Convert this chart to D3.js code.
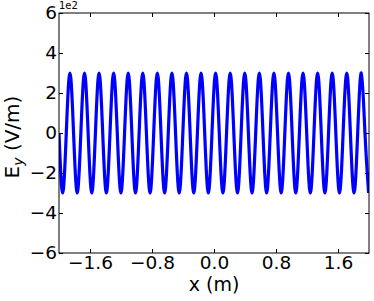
<!DOCTYPE html>
<html>
<head>
<meta charset="utf-8">
<script src="https://cdn.jsdelivr.net/npm/d3@7"></script>
<style>
  body { margin: 0; background: #fff; }
  text { font-family: "DejaVu Sans", sans-serif; }
</style>
</head>
<body>
<div id="chart"></div>
<script>
// zero crossings and extrema of the wave (x in m)
var xs = [-2.000, -1.953, -1.906, -1.859, -1.812, -1.765, -1.718, -1.671, -1.624, -1.577,
          -1.530, -1.483, -1.436, -1.389, -1.342, -1.295, -1.248, -1.201, -1.154, -1.107,
          -1.060, -1.013, -0.966, -0.919, -0.872, -0.825, -0.778, -0.731, -0.684, -0.637,
          -0.590, -0.543, -0.496, -0.449, -0.402, -0.355, -0.308, -0.261, -0.214, -0.167,
          -0.120, -0.073, -0.026, 0.021, 0.068, 0.115, 0.162, 0.209, 0.256, 0.303,
          0.350, 0.397, 0.444, 0.491, 0.538, 0.585, 0.632, 0.679, 0.726, 0.773,
          0.820, 0.867, 0.914, 0.961, 1.008, 1.055, 1.102, 1.149, 1.196, 1.243,
          1.290, 1.337, 1.384, 1.431, 1.478, 1.525, 1.572, 1.619, 1.666, 1.713,
          1.760, 1.807, 1.854, 1.901, 1.948, 1.995];
// E_y in V/m at those points
var ey = [0, -300, 0, 300, 0, -300, 0, 300, 0, -300,
          0, 300, 0, -300, 0, 300, 0, -300, 0, 300,
          0, -300, 0, 300, 0, -300, 0, 300, 0, -300,
          0, 300, 0, -300, 0, 300, 0, -300, 0, 300,
          0, -300, 0, 300, 0, -300, 0, 300, 0, -300,
          0, 300, 0, -300, 0, 300, 0, -300, 0, 300,
          0, -300, 0, 300, 0, -300, 0, 300, 0, -300,
          0, 300, 0, -300, 0, 300, 0, -300, 0, 300,
          0, -300, 0, 300, 0, -300];
var xTicks = [-1.6, -0.8, 0.0, 0.8, 1.6];
var yTicks = [-6, -4, -2, 0, 2, 4, 6];   // in units of 1e2

var margin = {top: 13, right: 5, bottom: 48, left: 59},
    width = 374 - margin.left - margin.right,
    height = 301 - margin.top - margin.bottom;

var x = d3.scaleLinear().domain([-2, 2]).range([0, width]);
var y = d3.scaleLinear().domain([-600, 600]).range([height, 0]);

var svg = d3.select("#chart").append("svg")
    .attr("width", 374)
    .attr("height", 301)
    .append("g")
    .attr("transform", "translate(" + margin.left + "," + margin.top + ")");

svg.append("clipPath").attr("id", "clip")
    .append("rect").attr("width", width).attr("height", height);

var line = d3.line()
    .x(function(d){ return x(d[0]); })
    .y(function(d){ return y(d[1]); })
    .curve(d3.curveNatural);

svg.append("path")
    .datum(d3.zip(xs, ey))
    .attr("clip-path", "url(#clip)")
    .attr("fill", "none")
    .attr("stroke", "#0000ff")
    .attr("stroke-width", 3.2)
    .attr("d", line);

var fmtX = function(d){ return d3.format(".1f")(d).replace("-", "\u2212"); };
var fmtY = function(d){ return String(d).replace("-", "\u2212"); };

// axes: inward ticks on all four sides
function styleAxis(g){
    g.select(".domain").remove();
    g.selectAll(".tick line").attr("stroke", "#000");
    g.selectAll(".tick text").attr("font-size", 18.5).attr("fill", "#000")
        .attr("font-family", "DejaVu Sans, sans-serif");
}

svg.append("g")
    .attr("transform", "translate(0," + height + ")")
    .call(d3.axisBottom(x).tickValues(xTicks).tickFormat(fmtX).tickSizeInner(-4).tickSizeOuter(0).tickPadding(3))
    .call(styleAxis);
svg.append("g")
    .call(d3.axisTop(x).tickValues(xTicks).tickFormat("").tickSizeInner(-4).tickSizeOuter(0))
    .call(styleAxis);
svg.append("g")
    .call(d3.axisLeft(y).tickValues(yTicks.map(function(v){ return v * 100; }))
        .tickFormat(function(d){ return fmtY(d / 100); }).tickSizeInner(-4).tickSizeOuter(0).tickPadding(2))
    .call(styleAxis);
svg.append("g")
    .attr("transform", "translate(" + width + ",0)")
    .call(d3.axisRight(y).tickValues(yTicks.map(function(v){ return v * 100; })).tickFormat("").tickSizeInner(-4).tickSizeOuter(0))
    .call(styleAxis);

svg.append("rect")
    .attr("width", width).attr("height", height)
    .attr("fill", "none").attr("stroke", "#000").attr("stroke-width", 1);

svg.append("text")
    .attr("x", 0).attr("y", -4)
    .attr("font-size", 10)
    .text("1e2");

svg.append("text")
    .attr("x", width / 2).attr("y", height + 38)
    .attr("text-anchor", "middle")
    .attr("font-size", 19)
    .text("x (m)");

var yl = svg.append("text")
    .attr("transform", "translate(" + (-40) + "," + (height / 2 + 4) + ") rotate(-90)")
    .attr("text-anchor", "middle")
    .attr("font-size", 20);
yl.append("tspan").text("E");
yl.append("tspan").attr("font-size", 14).attr("font-style", "italic").attr("dy", 4).text("y");
yl.append("tspan").attr("dy", -4).text(" (V/m)");
</script>
</body>
</html>
